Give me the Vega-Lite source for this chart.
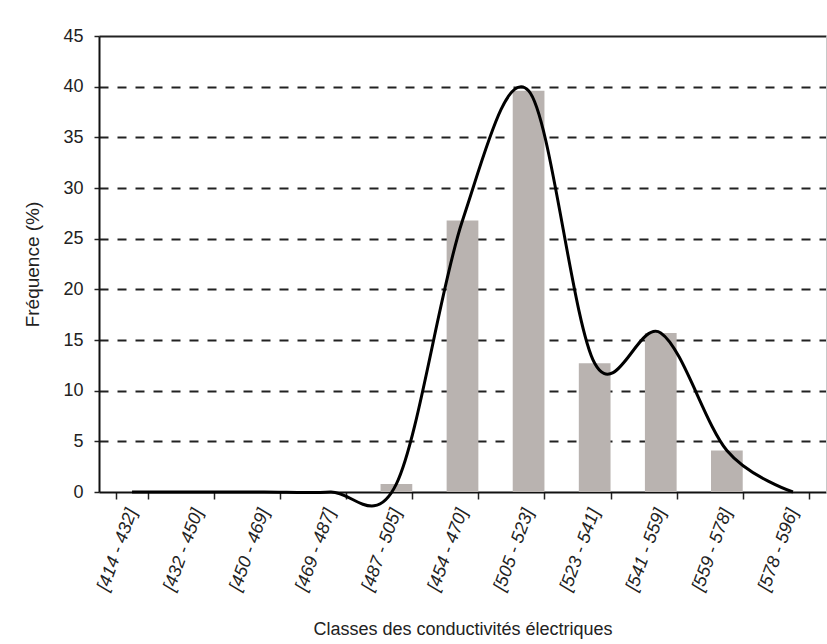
{
  "$schema": "https://vega.github.io/schema/vega-lite/v6.json",
  "width": 727,
  "height": 456,
  "autosize": "none",
  "padding": {"left": 99, "top": 36, "right": 1, "bottom": 152},
  "background": "white",
  "data": {
    "values": [
      {"classe": "[414 - 432]", "freq": 0},
      {"classe": "[432 - 450]", "freq": 0},
      {"classe": "[450 - 469]", "freq": 0},
      {"classe": "[469 - 487]", "freq": 0},
      {"classe": "[487 - 505]", "freq": 0.8},
      {"classe": "[454 - 470]", "freq": 26.8},
      {"classe": "[505 - 523]", "freq": 39.6},
      {"classe": "[523 - 541]", "freq": 12.7},
      {"classe": "[541 - 559]", "freq": 15.7},
      {"classe": "[559 - 578]", "freq": 4.1},
      {"classe": "[578 - 596]", "freq": 0}
    ]
  },
  "encoding": {
    "x": {
      "field": "classe",
      "type": "nominal",
      "sort": null,
      "scale": {"paddingInner": 0.52, "paddingOuter": 0.26},
      "axis": {
        "title": "Classes des conductivités électriques",
        "titleFont": "Liberation Sans",
        "titleFontSize": 18,
        "titleFontWeight": "normal",
        "titleColor": "#222",
        "titlePadding": 28,
        "labelFont": "Liberation Sans",
        "labelFontSize": 18,
        "labelFontStyle": "italic",
        "labelColor": "#222",
        "labelAngle": -70,
        "labelAlign": "right",
        "labelBaseline": "middle",
        "labelPadding": 10,
        "tickBand": "extent",
        "tickSize": 7,
        "tickColor": "#222",
        "tickWidth": 1.5,
        "domainColor": "#111",
        "domainWidth": 2,
        "grid": false
      }
    },
    "y": {
      "field": "freq",
      "type": "quantitative",
      "scale": {"domain": [0, 45], "nice": false},
      "axis": {
        "title": "Fréquence (%)",
        "titleFont": "Liberation Sans",
        "titleFontSize": 19,
        "titleFontWeight": "normal",
        "titleColor": "#222",
        "titlePadding": 20,
        "labelFont": "Liberation Sans",
        "labelFontSize": 18,
        "labelColor": "#222",
        "labelPadding": 11,
        "values": [0, 5, 10, 15, 20, 25, 30, 35, 40, 45],
        "tickSize": 5,
        "tickColor": "#222",
        "tickWidth": 1.5,
        "domainColor": "#111",
        "domainWidth": 2,
        "grid": true,
        "gridColor": {"condition": {"test": "datum.value === 0", "value": "transparent"}, "value": "#222"},
        "gridWidth": 2,
        "gridDash": {"condition": {"test": "datum.value === 45", "value": []}, "value": [9, 9]}
      }
    }
  },
  "layer": [
    {"mark": {"type": "bar", "color": "#b9b3b0"}},
    {
      "mark": {"type": "line", "color": "#000", "strokeWidth": 3, "interpolate": "cardinal"},
      "encoding": {
        "y": {
          "field": "freq",
          "type": "quantitative",
          "axis": {"orient": "right", "title": null, "labels": false, "ticks": false, "grid": false, "domainColor": "#c8c8c8", "domainWidth": 1}
        }
      }
    }
  ],
  "resolve": {"axis": {"y": "independent"}},
  "config": {"view": {"stroke": null}}
}
